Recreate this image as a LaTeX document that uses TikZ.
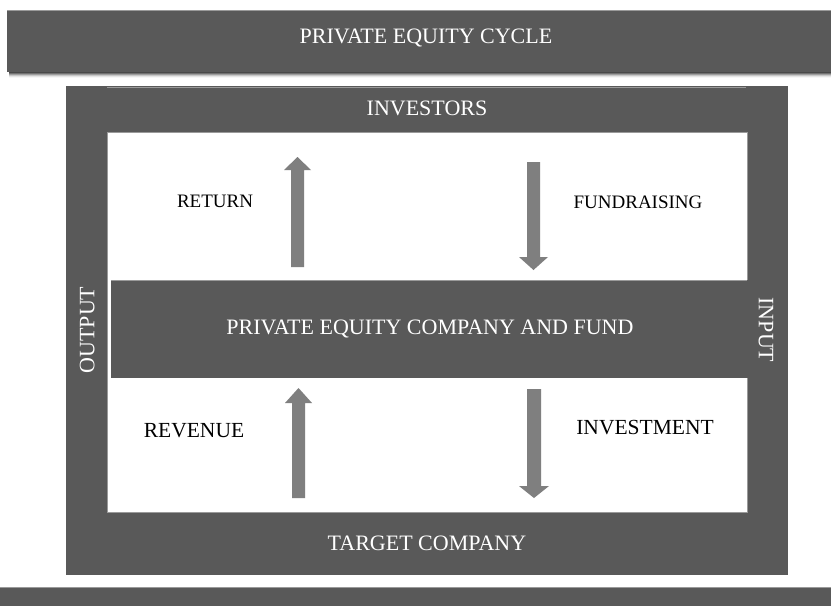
\documentclass[tikz,border=0pt]{standalone}
\usepackage{fontspec}
\setmainfont{Liberation Serif}
\definecolor{band}{HTML}{595959}
\definecolor{arrowgray}{HTML}{7F7F7F}
\definecolor{edgegray}{HTML}{9A9A9A}
\tikzset{
  bandfill/.style={fill=band, draw=none},
  blockarrow/.style={fill=arrowgray, draw=none},
  whitetext/.style={text=white, inner sep=0pt, text depth=0pt, font=\fontsize{22}{24}\selectfont},
  blacktext/.style={text=black, inner sep=0pt, text depth=0pt},
}
\begin{document}
\begin{tikzpicture}[x=1pt, y=-1pt]
\useasboundingbox (0,0) rectangle (831,606);
\fill[white] (0,0) rectangle (831,606);
% shadow of top bar
\foreach \d/\o in {1/0.35,2/0.28,3/0.2,4/0.13,5/0.07,6/0.03}{
  \fill[black, opacity=\o] (9,72) rectangle (831,72+\d);
}
% top bar
\fill[bandfill] (7,10) rectangle (835,72);
\draw[edgegray, line width=0.8pt] (7,10) -- (831,10);
\node[whitetext] (title) at (426,36) {PRIVATE EQUITY CYCLE};
% frame
\fill[bandfill] (66,86) rectangle (788,575);
\draw[edgegray, line width=0.8pt] (107,87) -- (746,87);
\fill[white] (107,132) rectangle (747,512);
\draw[edgegray, line width=0.6pt] (107,512) -- (107,132) -- (747,132) -- (747,512) -- cycle;
% middle band
\fill[bandfill] (111,280) rectangle (750,378);
\draw[edgegray, line width=0.6pt] (111,280) -- (747,280);
% bottom bar
\fill[bandfill] (0,587) rectangle (831,606);
\draw[edgegray, line width=0.8pt] (0,587) -- (831,587);
% texts
\node[whitetext] (investors) at (427,108) {INVESTORS};
\node[whitetext] (target) at (427,543) {TARGET COMPANY};
\node[whitetext] (pecf) at (430,327) {PRIVATE EQUITY COMPANY AND FUND};
\node[whitetext, rotate=90] (output) at (87,330) {OUTPUT};
\node[whitetext, rotate=-90] (input) at (766,330) {INPUT};
\node[blacktext, font=\fontsize{19}{21}\selectfont] (return) at (215,201) {RETURN};
\node[blacktext, font=\fontsize{19}{21}\selectfont] (fundraising) at (638,202) {FUNDRAISING};
\node[blacktext, font=\fontsize{21.5}{23}\selectfont] (revenue) at (194,430) {REVENUE};
\node[blacktext, font=\fontsize{21.5}{23}\selectfont] (investment) at (645,427) {INVESTMENT};
% block arrows
\fill[blockarrow] (291,267) -- (291,170) -- (284,170) -- (297.5,157) -- (311,170) -- (304,170) -- (304,267) -- cycle;
\fill[blockarrow] (527,162) -- (527,257) -- (519,257) -- (533.5,270) -- (548,257) -- (540,257) -- (540,162) -- cycle;
\fill[blockarrow] (292,498) -- (292,403) -- (285,403) -- (298.5,388) -- (312,403) -- (305,403) -- (305,498) -- cycle;
\fill[blockarrow] (527,389) -- (527,486) -- (519,486) -- (534,498) -- (549,486) -- (541,486) -- (541,389) -- cycle;
\end{tikzpicture}
\end{document}
